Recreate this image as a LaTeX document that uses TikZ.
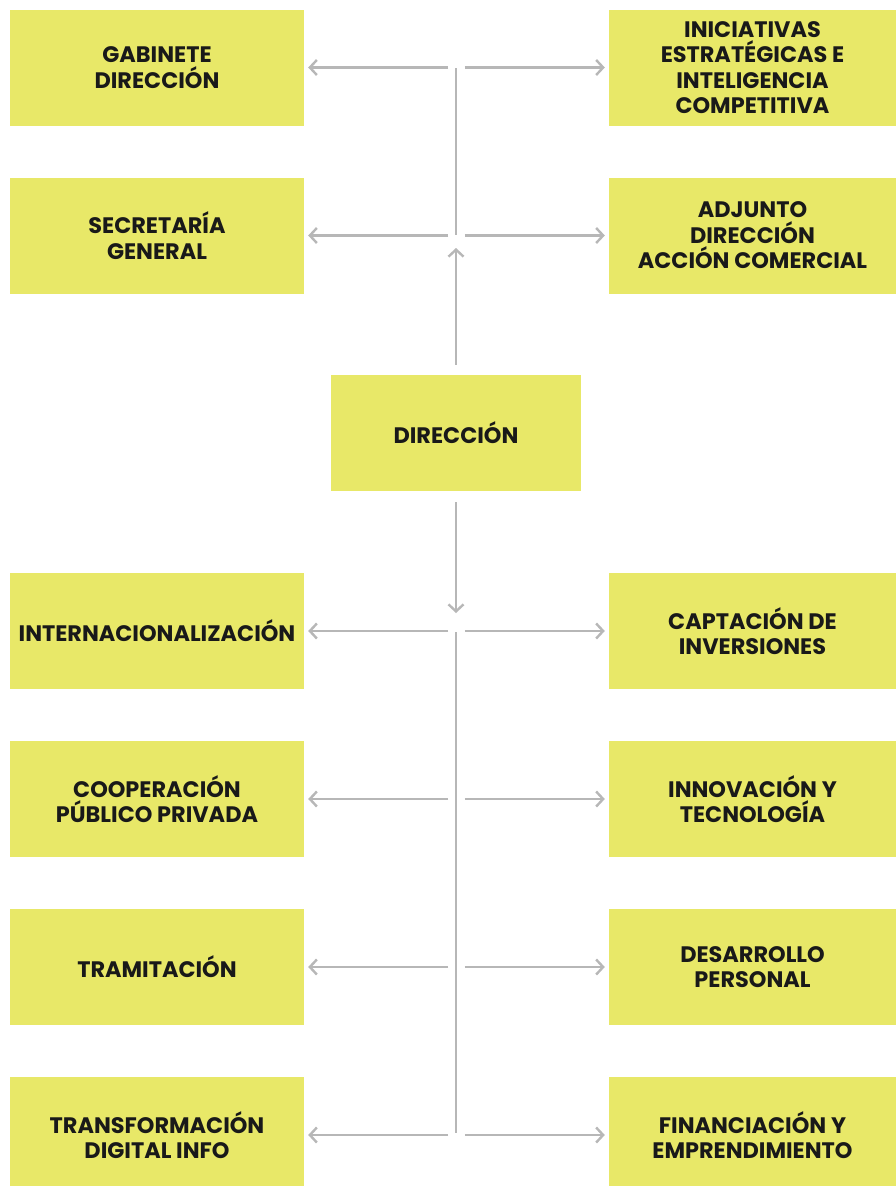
\documentclass[tikz,border=0pt]{standalone}
\usepackage{fontspec}
\setmainfont{Poppins}
\usetikzlibrary{arrows.meta,calc}
\definecolor{boxyellow}{RGB}{232,232,104}
\definecolor{arrgrey}{RGB}{183,183,183}
\definecolor{txt}{RGB}{25,25,25}
\begin{document}
\begin{tikzpicture}[x=1pt,y=-1pt,
  box/.style={fill=boxyellow,draw=none,minimum height=116pt,inner sep=0pt,
    align=center,text=txt,font=\bfseries\fontsize{22.4}{25.5}\selectfont},
  lbox/.style={box,minimum width=294pt},
  rbox/.style={box,minimum width=287pt},
  arr/.style={draw=arrgrey,line width=2.4pt,-{Straight Barb[length=7pt,width=15pt,line width=2.4pt]}},
  ln/.style={draw=arrgrey,line width=2.4pt}]
\clip (0,0) rectangle (896,1186);
\fill[white] (0,0) rectangle (896,1186);
% left column
\node[lbox] (l1) at (157,67.5) {GABINETE\\DIRECCIÓN};
\node[lbox] (l2) at (157,235.5) {SECRETARÍA\\GENERAL};
\node[lbox] (l3) at (157,631) {INTERNACIONALIZACIÓN};
\node[lbox] (l4) at (157,799) {COOPERACIÓN\\PÚBLICO PRIVADA};
\node[lbox] (l5) at (157,967) {TRAMITACIÓN};
\node[lbox] (l6) at (157,1135) {TRANSFORMACIÓN\\DIGITAL INFO};
% right column
\node[rbox] (r1) at (752.5,67.5) {INICIATIVAS\\ESTRATÉGICAS E\\INTELIGENCIA\\COMPETITIVA};
\node[rbox] (r2) at (752.5,235.5) {ADJUNTO\\DIRECCIÓN\\ACCIÓN COMERCIAL};
\node[rbox] (r3) at (752.5,631) {CAPTACIÓN DE\\INVERSIONES};
\node[rbox] (r4) at (752.5,799) {INNOVACIÓN Y\\TECNOLOGÍA};
\node[rbox] (r5) at (752.5,967) {DESARROLLO\\PERSONAL};
\node[rbox] (r6) at (752.5,1135) {FINANCIACIÓN Y\\EMPRENDIMIENTO};
% center
\node[box,minimum width=250pt] (dir) at (456,433) {DIRECCIÓN};
% junction coordinates
\coordinate (jtop) at (456,68);
\coordinate (jmid) at (456,235);
\coordinate (jlow) at (456,632);
\coordinate (jbot) at (456,1133);
% vertical lines
\draw[ln] (jtop) -- (jmid);
\draw[ln] (jlow) -- (jbot);
\draw[arr] ($(dir.north)+(0,-10)$) -- ($(jmid)+(0,13)$);
\draw[arr] ($(dir.south)+(0,11)$) -- ($(jlow)+(0,-19)$);
% horizontal arrows
\foreach \i in {1,...,6}{
  \draw[arr,shorten >=4pt] ($(l\i.east)+(144,0)$) -- (l\i.east);
  \draw[arr,shorten >=4pt] ($(r\i.west)+(-144,0)$) -- (r\i.west);
}
\end{tikzpicture}
\end{document}
